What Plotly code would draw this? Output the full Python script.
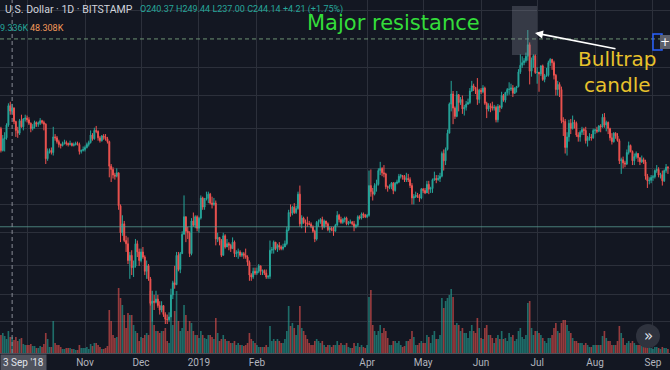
import math
import pandas as pd
import plotly.graph_objects as go

# ---------------- data: daily rows (close, high, low, volume) ----------------
sep18 = [(220,225,215,14),(197,222,195,18),(209,213,196,20),(210,216,196,17),(224,226,208,14),
         (247,250,222,22),(240.37,252,236,16),(244.14,249.44,237,16),(228,245,225,13),(218,229,211,16),
         (215,222,210,12),(229,231,213,14),(222,236,221,15),(231,232,218,9),(232,236,228,8)]
oct18 = [(230,235,227,8),(226,233,224,8),(220,227,216,9),(222,225,218,7),(227,229,220,7),
         (225,228,222,5),(226,228,222,5),(229,232,224,7),(227,230,225,6),(225,229,218,9),
         (189,226,184,20),(196,199,187,14),(197,199,194,6),(195,200,193,6),(211,222,192,32),
         (210,214,207,10),(206,212,204,8),(203,208,200,8),(202,204,199,6),(204,206,201,4),
         (205,208,203,4),(204,207,202,5),(203,205,201,5),(204,207,202,5),(202,205,201,4),
         (203,205,201,4),(204,206,202,3),(203,206,202,3),(196,205,193,8),(197,198,194,5),(198,201,196,5)]
nov18 = [(200,202,196,5),(203,205,199,6),(205,207,201,4),(213,218,204,9),(209,215,207,7),
         (218,221,208,10),(217,223,215,10),(210,218,207,8),(207,212,205,6),(212,213,206,4),
         (211,214,208,4),(209,214,207,5),(206,211,204,7),(182,207,172,43),(179,184,168,32),
         (174,181,171,18),(173,176,170,15),(176,180,172,16),(149,176,146,65),(130,150,124,55),
         (136,142,128,48),(125,138,124,38),(123,128,118,25),(113,127,111,40),(116,118,103,38),
         (109,119,105,38),(110,113,104,28),(123,126,109,22),(118,125,115,20),(113,120,110,12)]
dec18 = [(118,120,112,16),(115,121,114,15),(107,116,105,18),(110,113,103,20),(103,111,102,18),
         (91,104,90,62),(92,97,83,52),(91.5,95,88,28),(93,97,91,22),(90,95,89,22),
         (88,92,86,20),(90,92,87,22),(86,90,85,22),(84,87,82,25),(83.8,86,82,12),
         (85,87,83,10),(95,98,85,38),(101,102,93,28),(100,110,98,42),(116,118,100,62),
         (108,118,107,32),(117,118,106,22),(129,131,117,25),(141,157,129,48),(131,141,124,38),
         (130,134,126,22),(117,131,115,32),(138,140,116,30),(135,144,134,22),(141,142,133,18),(133,142,131,18)]
jan19 = [(140,141,130,15),(155,157,139,22),(148,156,146,18),(154,155,146,15),(155,160,153,14),
         (158,160,151,18),(151,159,150,18),(150,156,147,16),(151,155,149,14),(126,153,122,35),
         (127,130,124,20),(125,127,122,12),(116,126,115,14),(128,130,116,18),(121,129,120,14),
         (123,126,121,12),(122,124,119,12),(120,123,118,10),(124,127,120,10),(117,125,115,12),
         (117.5,119,115,8),(118,120,114,10),(116,119,115,8),(117,118,115,8),(116,118,114,7),
         (115,120,114,8),(112,116,110,10),(105,113,102,20),(104,106,102,14),(107,109,103,12),(106,109,105,10)]
feb19 = [(107,109,105,8),(110,111,106,6),(107,110,105,6),(107.4,108,105,6),(106,108,105,6),
         (104,108,103,8),(104.3,105,103,6),(119,125,103,27),(119.5,121,117,12),(124,125,117,14),
         (120,124,119,12),(122,123,118,14),(121,124,119,12),(120,122,119,10),(121,123,119,10),
         (123,125,121,14),(132,134,122,22),(144,146,131,47),(143.5,150,141,27),(148,149,142,30),
         (144,151,143,25),(147,149,143,18),(158,160,146,28),(136,165,134,47),(140,142,133,25),
         (137,141,136,22),(136.5,139,130,18),(136,141,134,14)]
mar19 = [(135.8,138,135,10),(134,137,133,8),(131,135,130,8),(126,132,124,12),(137,138,125,14),
         (137.5,139,134,12),(139,140,136,10),(134,141,132,12),(138,139,133,8),(136,138,134,6),
         (132,137,131,8),(133,134,130,8),(132,134,131,6),(131,134,128,8),(135,136,131,8),
         (142,145,135,12),(139,143,137,8),(137,141,136,10),(139,140,136,8),(140,141,137,8),
         (136,141,135,10),(137,138,135,6),(137.3,139,136,5),(136,138,135,5),(134,138,131,10),
         (135,136,133,7),(141,142,134,10),(140,142,139,6),(143,144,139,8),(142,144,140,6),(141,143,140,5)]
apr19 = [(142,143,140,8),(165,178,141,56),(160,179,156,63),(158,163,153,28),(165,167,157,22),
         (166,170,160,18),(178,180,165,22),(180,186,174,28),(176,181,173,20),(175,183,172,25),
         (164,176,162,22),(163.5,165,160,15),(164.5,166,162,8),(167,168,162,8),(161,168,158,12),
         (167,168,160,12),(168,170,166,10),(173,175,167,12),(173.5,175,171,8),(172.8,174,170,6),
         (170,174,168,7),(171,176,168,12),(170,175,168,12),(165,172,163,14),(155,167,150,22),
         (156,158,150,16),(157,160,155,8),(156,159,155,8),(155,158,152,10),(162,163,154,12)]
may19 = [(161,163,159,10),(159,163,158,10),(166,169,159,18),(162,169,158,16),(162.5,164,159,10),
         (170,171,159,18),(171,177,169,22),(170,174,167,14),(171,174,169,14),(173,176,168,18),
         (194,196,172,55),(187,198,178,45),(198,200,183,52),(215,219,197,55),(249,251,215,58),
         (262,280,240,64),(244,266,225,56),(234,246,231,28),(261,266,233,30),(251,262,240,28),
         (255,258,248,22),(243,260,237,25),(245,248,235,20),(249,253,241,20),(251,256,248,15),
         (266,270,249,22),(273,280,265,28),(271,276,266,22),(268,271,262,20),(255,284,248,35),(267,269,250,25)]
jun19 = [(265,270,262,15),(270,274,263,14),(250,272,248,25),(243,252,232,28),(247,250,240,18),
         (246,250,239,18),(244,252,241,15),(245,248,241,10),(230,247,227,15),(246,249,227,18),
         (245,248,239,14),(260,265,243,22),(254,262,252,14),(264,265,251,15),(268,270,260,12),
         (268.5,278,261,20),(270,276,266,16),(263,274,258,18),(270,271,262,12),(272,273,264,14),
         (293,297,271,22),(303,320,290,25),(307,317,299,16),(310,314,303,14),(317,323,307,18),
         (336,362,310,50),(294,340,275,52),(311,315,286,25),(318,320,299,18),(292,320,290,22)]
jul19 = [(292.5,300,276,22),(290,292,265,20),(302,303,287,18),(282,304,280,15),(287,290,278,12),
         (288,299,286,10),(307,310,286,15),(312,314,302,15),(307,313,296,18),(288,310,282,25),
         (268,290,260,30),(275,280,260,22),(268,278,258,20),(229,272,226,30),(228,233,212,33),
         (200,231,194,33),(211,216,192,28),(226,230,206,22),(220,231,214,20),(227,235,219,15),
         (226,230,220,12),(213,228,211,12),(211,216,206,10),(216,218,206,10),(219,222,213,10),
         (218,221,213,8),(207,222,204,10),(210,212,201,8),(211,215,207,6),(210,214,207,6),(218,220,209,8)]
aug19 = [(218.5,220,214,8),(217,222,215,8),(223,224,216,8),(222,225,216,8),(233,237,221,17),
         (224,238,221,22),(227,229,217,15),(220,228,214,12),(210,221,207,12),(206,215,203,8),
         (215,216,205,8),(212,216,209,8),(207,215,206,12),(187,209,184,27),(188,190,175,20),
         (185,191,180,15),(184,187,181,8),(195,198,183,10),(202,206,193,12),(196,203,195,10),
         (187,197,183,12),(191,194,183,10),(194,196,189,8),(190,194,186,8),(186,190,183,8),
         (188,192,185,7),(186,190,184,6),(173,188,170,12),(169,175,163,12),(169.5,172,166,6),(172,174,167,5)]
sep19 = [(172.5,174,169,4),(178,179,171,6),(179,183,176,6),(174,181,172,5),(174.3,176,171,4),
         (169,178,165,6),(178,179,168,5),(181,184,176,5),(180.5,182,175,4)]

month_starts = ["2018-09-16","2018-10-01","2018-11-01","2018-12-01","2019-01-01","2019-02-01",
                "2019-03-01","2019-04-01","2019-05-01","2019-06-01","2019-07-01","2019-08-01","2019-09-01"]
month_rows = [sep18, oct18, nov18, dec18, jan19, feb19, mar19, apr19, may19, jun19, jul19, aug19, sep19]
first_open = 222.0

tick_dates = ["2018-10-01","2018-11-01","2018-12-01","2019-01-01","2019-02-01","2019-04-01",
              "2019-05-01","2019-06-01","2019-07-01","2019-08-01","2019-09-01"]
tick_text = ["", "Nov", "Dec", "2019", "Feb", "Apr", "May", "Jun", "Jul", "Aug", "Sep"]
price_grid = [83, 95, 110, 130, 150, 180, 220, 260, 300, 400]
resistance = 346
support = 134
crosshair_date = "2018-09-23"

# ---------------- assemble ----------------
dates, closes, highs, lows, vols = [], [], [], [], []
for start, rows in zip(month_starts, month_rows):
    ds = pd.date_range(start, periods=len(rows), freq="D")
    for d, (c, h, l, v) in zip(ds, rows):
        dates.append(d); closes.append(c); highs.append(h); lows.append(l); vols.append(v)
opens = [first_open] + closes[:-1]

UP, DN = "#26a69a", "#ef5350"
vol_colors = ["rgba(38,166,154,0.6)" if c >= o else "rgba(239,83,80,0.6)" for o, c in zip(opens, closes)]

W, H, B = 670, 370, 17
PH = H - B
def px(x): return x / W
def py(y): return 1 - y / PH

x_left = pd.Timestamp("2018-11-01") - pd.Timedelta(days=85 / 1.8684)
x_right = pd.Timestamp("2018-11-01") + pd.Timedelta(days=585 / 1.8684)
p_top = 362 * math.exp(30 / 198)
p_bot = 362 * math.exp(-323 / 198)

fig = go.Figure()
fig.add_trace(go.Bar(x=dates, y=vols, marker=dict(color=vol_colors, line=dict(width=0)),
                     yaxis="y", hoverinfo="skip", showlegend=False))
fig.add_trace(go.Scatter(x=[x_left, x_right], y=[support, support], mode="lines", yaxis="y2",
                         line=dict(color="rgba(90,160,150,0.75)", width=1), hoverinfo="skip", showlegend=False))
fig.add_trace(go.Candlestick(x=dates, open=opens, high=highs, low=lows, close=closes, yaxis="y2",
                             increasing=dict(line=dict(color=UP, width=1), fillcolor=UP),
                             decreasing=dict(line=dict(color=DN, width=1), fillcolor=DN),
                             whiskerwidth=0, hoverinfo="skip", showlegend=False))
fig.add_trace(go.Scatter(x=[x_left, x_right], y=[resistance, resistance], mode="lines", yaxis="y2",
                         line=dict(color="rgba(120,160,125,0.9)", width=1, dash="4px,3px"),
                         hoverinfo="skip", showlegend=False))

UI = "Roboto, Liberation Sans, sans-serif"
ann = []
ann.append(dict(x=px(3), y=py(9), text="U.S. Dollar · 1D · BITSTAMP", xanchor="left", yanchor="middle",
                font=dict(family=UI, size=10.5, color="#d1d4dc")))
ann.append(dict(x=px(138), y=py(9), text="O240.37 H249.44 L237.00 C244.14 +4.21 (+1.75%)",
                xanchor="left", yanchor="middle", font=dict(family=UI, size=9, color=UP)))
ann.append(dict(x=px(-2), y=py(28), text="9.336K", xanchor="left", yanchor="middle",
                font=dict(family=UI, size=9, color=UP)))
ann.append(dict(x=px(28), y=py(28), text="48.308K", xanchor="left", yanchor="middle",
                font=dict(family=UI, size=9, color="#f39a5a")))
ann.append(dict(x=px(393), y=py(23), text="Major resistance", xanchor="center", yanchor="middle",
                font=dict(family="DejaVu Sans", size=21, color="#34dd3a")))
ann.append(dict(x=px(617), y=py(72), text="Bulltrap<br>candle", xanchor="center", yanchor="middle",
                font=dict(family="DejaVu Sans", size=20, color="#e8c22c")))
ann.append(dict(x=px(535), y=py(33), ax=82, ay=16, text="", showarrow=True, arrowhead=2,
                arrowsize=1, arrowwidth=1.6, arrowcolor="#ffffff"))
ann.append(dict(x=px(0), y=py(354), text="3 Sep '18", xanchor="left", yanchor="top",
                bgcolor="#50535e", borderpad=2, font=dict(family=UI, size=10, color="#e0e3eb")))
ann.append(dict(x=px(648), y=py(336), text="»", xanchor="center", yanchor="middle",
                font=dict(family="DejaVu Sans", size=15, color="#e0e3eb")))
ann.append(dict(x=px(665), y=py(42), text="+", xanchor="center", yanchor="middle",
                font=dict(family="DejaVu Sans", size=12, color="#ffffff")))
for a in ann:
    a.setdefault("xref", "paper"); a.setdefault("yref", "paper"); a.setdefault("showarrow", False)

shapes = [
    dict(type="rect", xref="paper", yref="paper", x0=px(512), x1=px(537), y0=py(55), y1=py(6),
         fillcolor="rgba(130,135,145,0.32)", line=dict(width=0), layer="above"),
    dict(type="line", xref="x", yref="paper", x0=crosshair_date, x1=crosshair_date, y0=0, y1=1,
         line=dict(color="#8a8d96", width=1, dash="4px,3px")),
    dict(type="circle", xref="paper", yref="paper", x0=px(636), x1=px(660), y0=py(348), y1=py(324),
         fillcolor="#2f333e", line=dict(width=0)),
    dict(type="rect", xref="paper", yref="paper", x0=px(653), x1=px(662), y0=py(50), y1=py(34),
         fillcolor="rgba(0,0,0,0)", line=dict(color="#2962ff", width=1.5)),
    dict(type="rect", xref="paper", yref="paper", x0=px(660), x1=px(670), y0=py(49), y1=py(35),
         fillcolor="#5d606b", line=dict(width=0)),
]

fig.update_layout(
    width=W, height=H, margin=dict(l=0, r=0, t=0, b=B),
    paper_bgcolor="#131722", plot_bgcolor="#131722",
    showlegend=False, hovermode=False, bargap=0.12,
    xaxis=dict(type="date", range=[x_left, x_right], rangeslider=dict(visible=False),
               tickvals=tick_dates, ticktext=tick_text, showgrid=True, gridcolor="#2c303b",
               gridwidth=1, ticks="", zeroline=False, showline=True, linecolor="#4c505b",
               tickfont=dict(family=UI, size=10, color="#b2b5be")),
    yaxis=dict(range=[0, PH], visible=False, showgrid=False, zeroline=False, fixedrange=True),
    yaxis2=dict(type="log", overlaying="y", side="right",
                range=[math.log10(p_bot), math.log10(p_top)],
                tickvals=price_grid, showticklabels=False, showgrid=True, gridcolor="#2c303b",
                zeroline=False, ticks=""),
    annotations=ann, shapes=shapes,
)

fig.write_html("out.html", config={"displayModeBar": False},
               post_script="document.body.style.margin='0';document.body.style.padding='0';"
                           "document.body.style.overflow='hidden';document.body.style.background='#131722';")
